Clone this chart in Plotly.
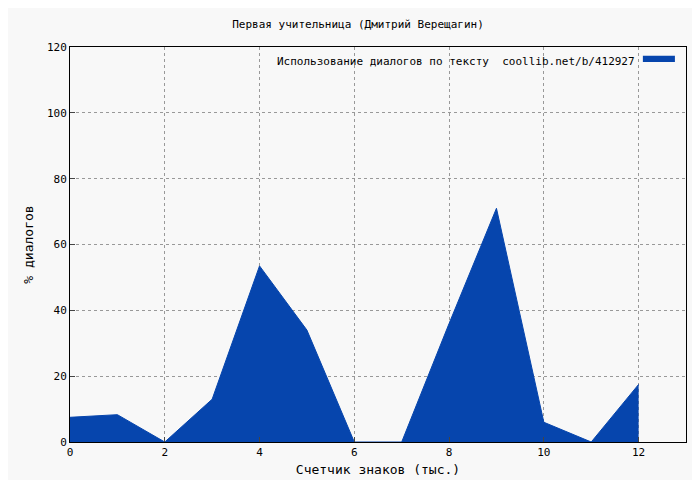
import plotly.graph_objects as go

x = [0, 1, 2, 3, 4, 5, 6, 7, 8, 9, 10, 11, 12]
y = [7.5, 8.3, 0, 13, 53.5, 34, 0, 0, 36, 71, 6, 0, 17.5]
title = "Первая учительница (Дмитрий Верещагин)"
legend_name = "Использование диалогов по тексту  coollib.net/b/412927"

fig = go.Figure()
fig.add_trace(go.Scatter(x=x, y=y, fill="tozeroy", mode="lines",
                         line=dict(color="#0645ad", width=1), fillcolor="#0645ad",
                         name=legend_name, showlegend=False))
fig.add_annotation(x=0.92, y=0.985, xref="paper", yref="paper", xanchor="right", yanchor="top",
                   text=legend_name, showarrow=False, font=dict(size=11, color="#000"))
fig.add_shape(type="rect", xref="paper", yref="paper", x0=0.93, x1=0.982, y0=0.962, y1=0.978,
              fillcolor="#0645ad", line=dict(width=0))
fig.update_layout(
    width=700, height=480, paper_bgcolor="#f8f8f8", plot_bgcolor="#f8f8f8",
    margin=dict(l=62, r=22, t=39, b=46),
    font=dict(family="DejaVu Sans Mono, monospace", size=11, color="#000"),
    title=dict(text=title, x=0.5, y=0.975, xanchor="center", font=dict(size=11)),
    xaxis=dict(range=[0, 13], tickvals=[0, 2, 4, 6, 8, 10, 12], showgrid=True,
               gridcolor="#999", griddash="dot", zeroline=False, showline=True, mirror=True,
               linecolor="#000", ticks="inside", title=dict(text="Счетчик знаков (тыс.)", standoff=6)),
    yaxis=dict(range=[0, 120], dtick=20, showgrid=True, gridcolor="#999", griddash="dot",
               zeroline=False, showline=True, mirror=True, linecolor="#000", ticks="inside",
               title=dict(text="% диалогов", standoff=10)),
)
fig.write_html("out.html")
